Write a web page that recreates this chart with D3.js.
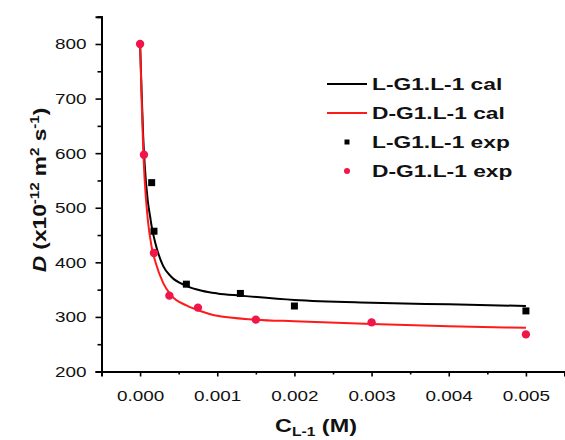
<!DOCTYPE html>
<html>
<head>
<meta charset="utf-8">
<script src="https://cdn.jsdelivr.net/npm/d3@7"></script>
<style>
  html, body { margin: 0; padding: 0; background: #fff; }
  svg { display: block; }
  text { font-family: "Liberation Sans", Arial, sans-serif; fill: #111; }
</style>
</head>
<body>
<svg id="chart" width="565" height="440"></svg>
<script>
// Concentration of L-1 (M) and diffusion coefficient D (x10^-12 m^2 s^-1)
const lExpC = [0.00015, 0.00018, 0.0006, 0.0013, 0.002, 0.005];
const lExpD = [546, 457, 360, 343, 320, 311];
const dExpC = [0, 0.00005, 0.00018, 0.00038, 0.00075, 0.0015, 0.003, 0.005];
const dExpD = [800, 597, 417, 339, 317, 295, 290, 268];

// Calculated curves
const lCalC = [0, 0.00002, 0.00004, 0.00006, 0.0001, 0.00013, 0.00015, 0.0002, 0.0003, 0.0004, 0.0006, 0.0008, 0.001, 0.0013, 0.002, 0.003, 0.004, 0.005];
const lCalD = [800, 712, 632, 578, 512, 484, 466, 434, 393, 374, 357, 348, 343, 339, 331, 326, 323, 320];
const dCalC = [0, 0.00002, 0.00004, 0.00006, 0.0001, 0.00015, 0.0002, 0.0003, 0.0004, 0.0006, 0.0008, 0.001, 0.0015, 0.002, 0.003, 0.004, 0.005];
const dCalD = [800, 700, 610, 550, 478, 428, 400, 362, 340, 321, 310, 302, 295, 292, 287, 283, 280];

const xTicks = [0, 0.001, 0.002, 0.003, 0.004, 0.005];
const xMinor = [-0.0005, 0.0005, 0.0015, 0.0025, 0.0035, 0.0045, 0.0055];
const yTicks = [200, 300, 400, 500, 600, 700, 800];
const yMinor = [250, 350, 450, 550, 650, 750, 850];

const legendItems = ["L-G1.L-1 cal", "D-G1.L-1 cal", "L-G1.L-1 exp", "D-G1.L-1 exp"];

const RED = "#ff1a1a";
const PINK = "#f0164a";

const svg = d3.select("#chart");
const x = d3.scaleLinear().domain([-0.0005, 0.0055]).range([101.5, 564.5]);
const y = d3.scaleLinear().domain([200, 850]).range([371.5, 16.7]);

const TICK_SX = 1.22;

// curves
const line = d3.line().x(d => x(d[0])).y(d => y(d[1])).curve(d3.curveMonotoneX);
svg.append("path").datum(lCalC.map((c, i) => [c, lCalD[i]]))
  .attr("d", line).attr("fill", "none").attr("stroke", "#000").attr("stroke-width", 2);
svg.append("path").datum(dCalC.map((c, i) => [c, dCalD[i]]))
  .attr("d", line).attr("fill", "none").attr("stroke", RED).attr("stroke-width", 2);

// experimental points
const sq = 7;
svg.append("g").selectAll("rect").data(lExpC.map((c, i) => [c, lExpD[i]])).join("rect")
  .attr("x", d => x(d[0]) - sq / 2).attr("y", d => y(d[1]) - sq / 2)
  .attr("width", sq).attr("height", sq).attr("fill", "#000");
svg.append("g").selectAll("circle").data(dExpC.map((c, i) => [c, dExpD[i]])).join("circle")
  .attr("cx", d => x(d[0])).attr("cy", d => y(d[1])).attr("r", 4.2).attr("fill", PINK);

// axes
function styleAxis(g) {
  g.selectAll(".domain").attr("stroke", "#000").attr("stroke-width", 2);
  g.selectAll(".tick line").attr("stroke", "#000").attr("stroke-width", 1.6);
}
const xAxisMinor = svg.append("g").attr("transform", `translate(0,${y(200)})`)
  .call(d3.axisBottom(x).tickValues(xMinor).tickSize(3).tickFormat(""));
styleAxis(xAxisMinor);
const xAxis = svg.append("g").attr("transform", `translate(0,${y(200)})`)
  .call(d3.axisBottom(x).tickValues(xTicks).tickSize(5).tickPadding(14).tickFormat(d3.format(".3f")));
styleAxis(xAxis);
xAxis.selectAll("text").attr("font-size", 15.5).attr("fill", "#111")
  .attr("transform", `scale(${TICK_SX},1)`);

const yAxisMinor = svg.append("g").attr("transform", `translate(${x(-0.0005)},0)`)
  .call(d3.axisLeft(y).tickValues(yMinor).tickSize(4).tickFormat(""));
styleAxis(yAxisMinor);
const yAxis = svg.append("g").attr("transform", `translate(${x(-0.0005)},0)`)
  .call(d3.axisLeft(y).tickValues(yTicks).tickSize(6).tickPadding(9).tickFormat(d3.format("d")));
styleAxis(yAxis);
yAxis.selectAll("text").attr("font-size", 15.5).attr("fill", "#111")
  .attr("x", -15 / TICK_SX).attr("transform", `scale(${TICK_SX},1)`);

// axis titles
const xt = svg.append("text").attr("transform", "translate(316,432) scale(1.3,1)")
  .attr("text-anchor", "middle").attr("font-weight", "bold").attr("font-size", 18);
xt.append("tspan").text("C");
xt.append("tspan").attr("font-size", 12).attr("dy", 4).text("L-1");
xt.append("tspan").attr("dy", -4).text(" (M)");

const yt = svg.append("text").attr("transform", "translate(46,190) rotate(-90) scale(1.26,1)")
  .attr("text-anchor", "middle").attr("font-weight", "bold").attr("font-size", 18);
yt.append("tspan").attr("font-style", "italic").text("D");
yt.append("tspan").text(" (x10");
yt.append("tspan").attr("font-size", 12).attr("dy", -7).text("-12");
yt.append("tspan").attr("dy", 7).text(" m");
yt.append("tspan").attr("font-size", 12).attr("dy", -7).text("2");
yt.append("tspan").attr("dy", 7).text(" s");
yt.append("tspan").attr("font-size", 12).attr("dy", -7).text("-1");
yt.append("tspan").attr("dy", 7).text(")");

// legend
const lg = svg.append("g");
const rowY = [84, 113, 142, 171];
lg.append("line").attr("x1", 327).attr("x2", 367).attr("y1", rowY[0]).attr("y2", rowY[0])
  .attr("stroke", "#000").attr("stroke-width", 2);
lg.append("line").attr("x1", 327).attr("x2", 367).attr("y1", rowY[1]).attr("y2", rowY[1])
  .attr("stroke", RED).attr("stroke-width", 2);
lg.append("rect").attr("x", 347 - 2.5).attr("y", rowY[2] - 2.5).attr("width", 5).attr("height", 5).attr("fill", "#000");
lg.append("circle").attr("cx", 347).attr("cy", rowY[3]).attr("r", 3).attr("fill", PINK);
legendItems.forEach((t, i) => {
  lg.append("text").attr("transform", `translate(372,${rowY[i] + 5.5}) scale(1.34,1)`)
    .attr("font-weight", "bold").attr("font-size", 17).text(t);
});
</script>
</body>
</html>
